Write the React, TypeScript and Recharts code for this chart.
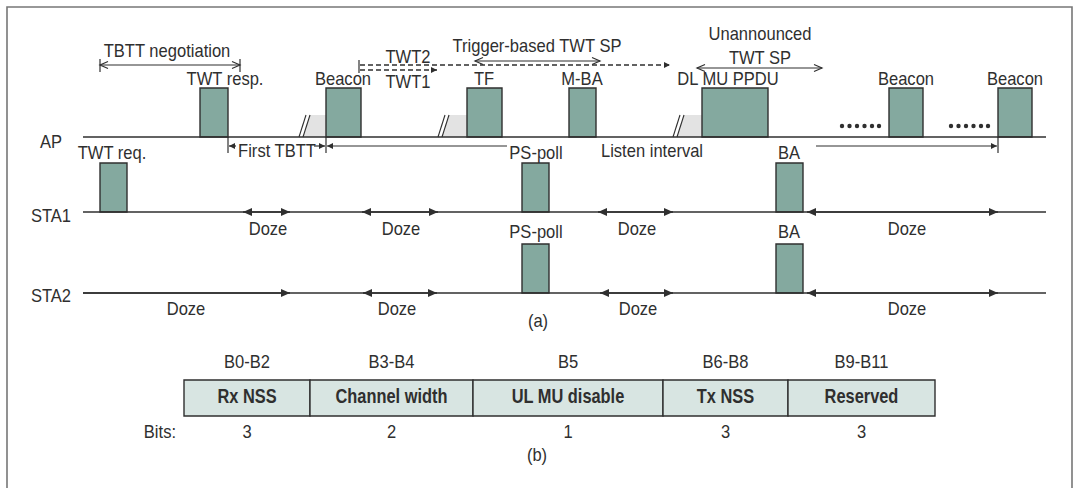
import {
  ComposedChart,
  XAxis,
  YAxis,
  ReferenceArea,
  ReferenceLine,
  ReferenceDot,
  Scatter,
} from "recharts";

const FONT = "'Liberation Sans', Arial, sans-serif";
const INK = "#2f2f2f";
const FRAME_FILL = "#84a99f";
const GAP_FILL = "#e3e3e3";
const FIELD_FILL = "#d8e5e2";

// timelines, in diagram units (time on x, level on y)
const lanes = [
  { name: "AP", y: 137, nameY: 148, frameLabelY: 85 },
  { name: "STA1", y: 212, nameY: 222, frameLabelY: 159 },
  { name: "STA2", y: 293, nameY: 302, frameLabelY: 238 },
];
const laneSpan = [83, 1046];
const frameHeight = 49;

const frames = [
  { lane: "AP", start: 200, end: 228, label: "TWT resp.", labelAt: 225 },
  { lane: "AP", start: 326, end: 361, label: "Beacon", labelAt: 343 },
  { lane: "AP", start: 467, end: 502, label: "TF", labelAt: 484 },
  { lane: "AP", start: 569, end: 596, label: "M-BA", labelAt: 582 },
  { lane: "AP", start: 702, end: 768, label: "DL MU PPDU", labelAt: 728 },
  { lane: "AP", start: 889, end: 923, label: "Beacon", labelAt: 906 },
  { lane: "AP", start: 998, end: 1032, label: "Beacon", labelAt: 1015 },
  { lane: "STA1", start: 100, end: 127, label: "TWT req.", labelAt: 112 },
  { lane: "STA1", start: 522, end: 549, label: "PS-poll", labelAt: 536 },
  { lane: "STA1", start: 776, end: 803, label: "BA", labelAt: 789 },
  { lane: "STA2", start: 522, end: 549, label: "PS-poll", labelAt: 536 },
  { lane: "STA2", start: 776, end: 803, label: "BA", labelAt: 789 },
];

// contention gaps before AP frames (grey, with // break mark)
const gaps = [
  { start: 299, end: 326, top: 115 },
  { start: 438, end: 467, top: 115 },
  { start: 673, end: 702, top: 115 },
];

const dozeSta1 = [
  { from: 243, to: 290, both: true, labelAt: 268 },
  { from: 362, to: 438, both: true, labelAt: 401 },
  { from: 598, to: 673, both: true, labelAt: 637 },
  { from: 807, to: 998, both: true, labelAt: 907 },
];
const dozeSta2 = [
  { from: 83, to: 290, both: false, labelAt: 186 },
  { from: 363, to: 437, both: true, labelAt: 397 },
  { from: 600, to: 673, both: true, labelAt: 638 },
  { from: 807, to: 998, both: true, labelAt: 907 },
];

const spans = [
  { from: 100, to: 240, y: 65, ticks: true },
  { from: 475, to: 600, y: 61, ticks: false },
  { from: 697, to: 822, y: 68, ticks: false },
];

const ellipsisDots = [
  { x: 842, y: 126 }, { x: 849.5, y: 126 }, { x: 857, y: 126 },
  { x: 864.5, y: 126 }, { x: 872, y: 126 }, { x: 879, y: 126 },
  { x: 951, y: 126 }, { x: 958.5, y: 126 }, { x: 966, y: 126 },
  { x: 973.5, y: 126 }, { x: 981, y: 126 }, { x: 988, y: 126 },
];

const captions = [
  { x: 167, y: 57, text: "TBTT negotiation" },
  { x: 537, y: 52, text: "Trigger-based TWT SP" },
  { x: 760, y: 40, text: "Unannounced" },
  { x: 760, y: 64, text: "TWT SP" },
  { x: 408, y: 63, text: "TWT2" },
  { x: 408, y: 88, text: "TWT1" },
  { x: 277, y: 157, text: "First TBTT" },
  { x: 652, y: 157, text: "Listen interval" },
  { x: 538, y: 327, text: "(a)" },
  { x: 537, y: 461, text: "(b)" },
];

// TWT element fields (b)
const fieldNames = ["Rx NSS", "Channel width", "UL MU disable", "Tx NSS", "Reserved"];
const fieldBits = ["B0-B2", "B3-B4", "B5", "B6-B8", "B9-B11"];
const fieldSizes = ["3", "2", "1", "3", "3"];
const fieldEdges = [184, 310, 473, 663, 788, 935];
const fieldRow = { top: 380, bottom: 416, bitsY: 368, nameY: 403, sizeY: 438 };

type Head = "none" | "open" | "fill" | "small";

function headShape(x: number, y: number, a: number, kind: Head) {
  if (kind === "none") return null;
  const L = kind === "open" ? 8 : kind === "fill" ? 9 : 6;
  const w = kind === "open" ? 3.5 : kind === "fill" ? 4 : 3;
  const c = Math.cos(a);
  const s = Math.sin(a);
  const bx = x - L * c;
  const by = y - L * s;
  const p1 = `${bx + w * s},${by - w * c}`;
  const p2 = `${bx - w * s},${by + w * c}`;
  if (kind === "open") {
    return <polyline points={`${p1} ${x},${y} ${p2}`} fill="none" stroke={INK} strokeWidth={1.2} />;
  }
  return <polygon points={`${p1} ${x},${y} ${p2}`} fill={INK} stroke="none" />;
}

function arrow(start: Head, end: Head, dashed = false, width = 1.3) {
  return (p: any) => {
    const { x1, y1, x2, y2 } = p;
    const a = Math.atan2(y2 - y1, x2 - x1);
    return (
      <g>
        <line
          x1={x1}
          y1={y1}
          x2={x2}
          y2={y2}
          stroke={INK}
          strokeWidth={width}
          strokeDasharray={dashed ? "5 3" : undefined}
        />
        {headShape(x2, y2, a, end)}
        {headShape(x1, y1, a + Math.PI, start)}
      </g>
    );
  };
}

// condensed look: regular sans squeezed horizontally
function label(
  text: string,
  anchor: "middle" | "end" | "start" = "middle",
  size = 18,
  weight = 400,
  squeeze = 0.92
) {
  return (p: any) => (
    <text
      transform={`translate(${p.cx},${p.cy}) scale(${squeeze},1)`}
      x={0}
      y={0}
      textAnchor={anchor}
      fontFamily={FONT}
      fontSize={size}
      fontWeight={weight}
      fill={INK}
    >
      {text}
    </text>
  );
}

const gapShape = (p: any) => {
  const { x, y, width, height } = p;
  const s = 7;
  const b = y + height;
  return (
    <g>
      <polygon points={`${x + 4 + s},${y} ${x + width},${y} ${x + width},${b} ${x + 4},${b}`} fill={GAP_FILL} />
      <line x1={x} y1={b} x2={x + s} y2={y} stroke={INK} strokeWidth={1.1} />
      <line x1={x + 4} y1={b} x2={x + 4 + s} y2={y} stroke={INK} strokeWidth={1.1} />
    </g>
  );
};

const laneY = (name: string) => lanes.find((l) => l.name === name)!;

function seg(x1: number, y1: number, x2: number, y2: number) {
  return [{ x: x1, y: y1 }, { x: x2, y: y2 }];
}

export default function App() {
  return (
    <div style={{ position: "absolute", left: 0, top: 0, background: "#fff" }}>
      <ComposedChart width={1078} height={488} margin={{ top: 0, right: 0, bottom: 0, left: 0 }}>
        <XAxis type="number" dataKey="x" domain={[0, 1078]} hide allowDataOverflow />
        <YAxis type="number" dataKey="y" domain={[0, 488]} reversed hide allowDataOverflow />

        {/* frame border */}
        <ReferenceArea
          x1={7}
          x2={1072}
          y1={7}
          y2={495}
          ifOverflow="visible"
          fill="none"
          stroke="#777"
          strokeWidth={1.6}
        />

        {gaps.map((g, i) => (
          <ReferenceArea key={`g${i}`} x1={g.start} x2={g.end} y1={g.top} y2={laneY("AP").y} shape={gapShape} />
        ))}

        {lanes.map((l) => (
          <ReferenceLine
            key={l.name}
            segment={seg(laneSpan[0], l.y, laneSpan[1], l.y)}
            stroke={INK}
            strokeWidth={1.5}
          />
        ))}
        {lanes.map((l) => (
          <ReferenceDot key={`n${l.name}`} x={51} y={l.nameY} r={1} shape={label(l.name)} />
        ))}

        {frames.map((f, i) => {
          const l = laneY(f.lane);
          return (
            <ReferenceArea
              key={`f${i}`}
              x1={f.start}
              x2={f.end}
              y1={l.y - frameHeight}
              y2={l.y}
              fill={FRAME_FILL}
              fillOpacity={1}
              stroke={INK}
              strokeWidth={1.4}
            />
          );
        })}
        {frames.map((f, i) => (
          <ReferenceDot key={`fl${i}`} x={f.labelAt} y={laneY(f.lane).frameLabelY} r={1} shape={label(f.label)} />
        ))}

        {/* double arrows for spans */}
        {spans.map((s, i) => (
          <ReferenceLine key={`s${i}`} segment={seg(s.from, s.y, s.to, s.y)} shape={arrow("open", "open", false, 1.1)} />
        ))}
        {spans
          .filter((s) => s.ticks)
          .flatMap((s) => [s.from, s.to])
          .map((x, i) => (
            <ReferenceLine key={`st${i}`} segment={seg(x, 59, x, 72)} stroke={INK} strokeWidth={1.2} />
          ))}

        {/* TWT1 / TWT2 dashed */}
        <ReferenceLine segment={seg(359, 60, 359, 73)} stroke={INK} strokeWidth={1.2} />
        <ReferenceLine segment={seg(360, 65, 670, 65)} shape={arrow("none", "small", true, 1.4)} />
        <ReferenceLine segment={seg(360, 70, 437, 70)} shape={arrow("none", "small", true, 1.4)} />

        {/* First TBTT and Listen interval */}
        <ReferenceLine segment={seg(228, 137, 228, 153)} stroke={INK} strokeWidth={1.2} />
        <ReferenceLine segment={seg(326, 137, 326, 153)} stroke={INK} strokeWidth={1.2} />
        <ReferenceLine segment={seg(998, 137, 998, 153)} stroke={INK} strokeWidth={1.2} />
        <ReferenceLine segment={seg(236, 146, 229, 146)} shape={arrow("none", "small", false, 1.2)} />
        <ReferenceLine segment={seg(314, 146, 325, 146)} shape={arrow("none", "small", false, 1.2)} />
        <ReferenceLine segment={seg(507, 146, 327, 146)} shape={arrow("none", "small", false, 1.2)} />
        <ReferenceLine segment={seg(816, 146, 997, 146)} shape={arrow("none", "small", false, 1.2)} />

        {/* doze periods */}
        {dozeSta1.map((d, i) => (
          <ReferenceLine
            key={`d1${i}`}
            segment={seg(d.from, laneY("STA1").y, d.to, laneY("STA1").y)}
            shape={arrow(d.both ? "fill" : "none", "fill", false, 1.5)}
          />
        ))}
        {dozeSta2.map((d, i) => (
          <ReferenceLine
            key={`d2${i}`}
            segment={seg(d.from, laneY("STA2").y, d.to, laneY("STA2").y)}
            shape={arrow(d.both ? "fill" : "none", "fill", false, 1.5)}
          />
        ))}
        {dozeSta1.map((d, i) => (
          <ReferenceDot key={`dl1${i}`} x={d.labelAt} y={235} r={1} shape={label("Doze")} />
        ))}
        {dozeSta2.map((d, i) => (
          <ReferenceDot key={`dl2${i}`} x={d.labelAt} y={315} r={1} shape={label("Doze")} />
        ))}

        <Scatter
          data={ellipsisDots}
          dataKey="y"
          isAnimationActive={false}
          shape={(p: any) => <circle cx={p.cx} cy={p.cy} r={2.2} fill={INK} />}
        />

        {captions.map((c, i) => (
          <ReferenceDot key={`c${i}`} x={c.x} y={c.y} r={1} shape={label(c.text)} />
        ))}

        {/* field table */}
        {fieldNames.map((n, i) => (
          <ReferenceArea
            key={`fd${i}`}
            x1={fieldEdges[i]}
            x2={fieldEdges[i + 1]}
            y1={fieldRow.top}
            y2={fieldRow.bottom}
            fill={FIELD_FILL}
            fillOpacity={1}
            stroke={INK}
            strokeWidth={1.4}
          />
        ))}
        {fieldNames.map((n, i) => {
          const cx = (fieldEdges[i] + fieldEdges[i + 1]) / 2;
          return [
            <ReferenceDot key={`fn${i}`} x={cx} y={fieldRow.nameY} r={1} shape={label(n, "middle", 20, 700, 0.82)} />,
            <ReferenceDot key={`fb${i}`} x={cx} y={fieldRow.bitsY} r={1} shape={label(fieldBits[i])} />,
            <ReferenceDot key={`fs${i}`} x={cx} y={fieldRow.sizeY} r={1} shape={label(fieldSizes[i])} />,
          ];
        })}
        <ReferenceDot x={176} y={fieldRow.sizeY} r={1} shape={label("Bits:", "end")} />
      </ComposedChart>
    </div>
  );
}
